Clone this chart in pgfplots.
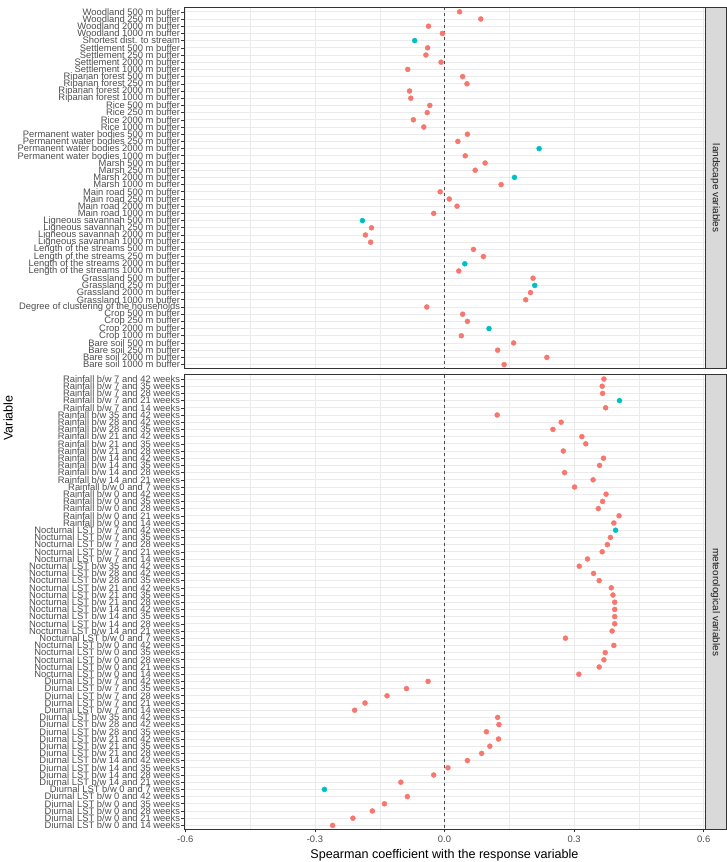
\documentclass[border=0pt]{standalone}
\usepackage{fontspec}
\setmainfont{Liberation Sans}
\usepackage{pgfplots}
\pgfplotsset{compat=1.18}

\definecolor{salmon}{HTML}{F8766D}
\definecolor{cyanpt}{HTML}{00BFC4}
\definecolor{gridgrey}{HTML}{EBEBEB}
\definecolor{g20}{HTML}{333333}
\definecolor{g30}{HTML}{4D4D4D}
\definecolor{g10}{HTML}{1A1A1A}
\definecolor{stripfill}{HTML}{D9D9D9}

\pgfplotsset{
  facet/.style={
    scale only axis, width=521pt,
    xmin=-0.603, xmax=0.603,
    y dir=reverse,
    axis line style={g20, line width=0.9pt},
    xtick={-0.6,-0.3,0,0.3,0.6},
    minor xtick={-0.45,-0.15,0.15,0.45},
    xmajorgrids, xminorgrids, ymajorgrids,
    major grid style={gridgrey, line width=0.8pt},
    minor grid style={gridgrey, line width=0.4pt},
    tick align=outside, tick pos=left,
    major tick length=2.75pt, minor tick length=0pt,
    tick style={g20, line width=0.6pt},
    yticklabel style={font=\fontsize{9.4}{9.4}\selectfont, text=g30, inner sep=1pt},
    xticklabel style={font=\fontsize{9.4}{9.4}\selectfont, text=g30},
    /pgf/number format/assume math mode=true,
    /pgf/number format/fixed, /pgf/number format/fixed zerofill,
    /pgf/number format/precision=1,
  },
  pts/.style={only marks, mark=*, mark size=2.5pt, color=#1, mark options={draw=#1, fill=#1}},
}

\begin{document}
\begin{tikzpicture}
\path[use as bounding box] (0,0) rectangle (726pt,862pt);

% landscape panel
\begin{axis}[facet, name=top, at={(184pt,854.5pt)}, anchor=north west,
  height=361.4pt, ymin=0.4, ymax=50.6,
  xticklabels={}, xtick style={draw=none},
  ytick={1,...,50},
  yticklabels={Woodland 500 m buffer, Woodland 250 m buffer, Woodland 2000 m buffer, Woodland 1000 m buffer,
    Shortest dist. to stream,
    Settlement 500 m buffer, Settlement 250 m buffer, Settlement 2000 m buffer, Settlement 1000 m buffer,
    Riparian forest 500 m buffer, Riparian forest 250 m buffer, Riparian forest 2000 m buffer, Riparian forest 1000 m buffer,
    Rice 500 m buffer, Rice 250 m buffer, Rice 2000 m buffer, Rice 1000 m buffer,
    Permanent water bodies 500 m buffer, Permanent water bodies 250 m buffer, Permanent water bodies 2000 m buffer, Permanent water bodies 1000 m buffer,
    Marsh 500 m buffer, Marsh 250 m buffer, Marsh 2000 m buffer, Marsh 1000 m buffer,
    Main road 500 m buffer, Main road 250 m buffer, Main road 2000 m buffer, Main road 1000 m buffer,
    Ligneous savannah 500 m buffer, Ligneous savannah 250 m buffer, Ligneous savannah 2000 m buffer, Ligneous savannah 1000 m buffer,
    Length of the streams 500 m buffer, Length of the streams 250 m buffer, Length of the streams 2000 m buffer, Length of the streams 1000 m buffer,
    Grassland 500 m buffer, Grassland 250 m buffer, Grassland 2000 m buffer, Grassland 1000 m buffer,
    Degree of clustering of the households,
    Crop 500 m buffer, Crop 250 m buffer, Crop 2000 m buffer, Crop 1000 m buffer,
    Bare soil 500 m buffer, Bare soil 250 m buffer, Bare soil 2000 m buffer, Bare soil 1000 m buffer},
]
\addplot[g30, line width=0.5pt, dash pattern=on 3pt off 3pt] coordinates {(0,0.4) (0,50.6)};
\addplot[pts=salmon] coordinates {
  (0.035,1) (0.084,2) (-0.037,3) (-0.005,4) (-0.039,6) (-0.043,7) (-0.008,8) (-0.085,9)
  (0.042,10) (0.052,11) (-0.081,12) (-0.078,13) (-0.034,14) (-0.040,15) (-0.072,16) (-0.048,17)
  (0.053,18) (0.031,19) (0.048,21) (0.094,22) (0.071,23) (0.131,25) (-0.010,26) (0.011,27)
  (0.029,28) (-0.025,29) (-0.169,31) (-0.183,32) (-0.171,33) (0.067,34) (0.090,35) (0.033,37)
  (0.205,38) (0.199,40) (0.188,41) (-0.041,42) (0.042,43) (0.053,44) (0.039,46) (0.160,47)
  (0.123,48) (0.237,49) (0.138,50)};
\addplot[pts=cyanpt] coordinates {
  (-0.069,5) (0.219,20) (0.162,24) (-0.190,30) (0.047,36) (0.209,39) (0.103,45)};
\end{axis}
\draw[fill=stripfill, draw=g20, line width=0.9pt] (top.north east) rectangle ([xshift=21pt]top.south east);
\node[rotate=-90, text=g10, font=\fontsize{10}{10}\selectfont] at ([xshift=10.5pt]top.east) {landscape variables};

% meteorological panel
\begin{axis}[facet, name=bot, at={(184pt,487.3pt)}, anchor=north west,
  height=455pt, ymin=0.4, ymax=63.6,
  ytick={1,...,63},
  yticklabels={Rainfall b/w 7 and 42 weeks, Rainfall b/w 7 and 35 weeks, Rainfall b/w 7 and 28 weeks, Rainfall b/w 7 and 21 weeks, Rainfall b/w 7 and 14 weeks,
    Rainfall b/w 35 and 42 weeks, Rainfall b/w 28 and 42 weeks, Rainfall b/w 28 and 35 weeks,
    Rainfall b/w 21 and 42 weeks, Rainfall b/w 21 and 35 weeks, Rainfall b/w 21 and 28 weeks,
    Rainfall b/w 14 and 42 weeks, Rainfall b/w 14 and 35 weeks, Rainfall b/w 14 and 28 weeks, Rainfall b/w 14 and 21 weeks,
    Rainfall b/w 0 and 7 weeks, Rainfall b/w 0 and 42 weeks, Rainfall b/w 0 and 35 weeks, Rainfall b/w 0 and 28 weeks, Rainfall b/w 0 and 21 weeks, Rainfall b/w 0 and 14 weeks,
    Nocturnal LST b/w 7 and 42 weeks, Nocturnal LST b/w 7 and 35 weeks, Nocturnal LST b/w 7 and 28 weeks, Nocturnal LST b/w 7 and 21 weeks, Nocturnal LST b/w 7 and 14 weeks,
    Nocturnal LST b/w 35 and 42 weeks, Nocturnal LST b/w 28 and 42 weeks, Nocturnal LST b/w 28 and 35 weeks,
    Nocturnal LST b/w 21 and 42 weeks, Nocturnal LST b/w 21 and 35 weeks, Nocturnal LST b/w 21 and 28 weeks,
    Nocturnal LST b/w 14 and 42 weeks, Nocturnal LST b/w 14 and 35 weeks, Nocturnal LST b/w 14 and 28 weeks, Nocturnal LST b/w 14 and 21 weeks,
    Nocturnal LST b/w 0 and 7 weeks, Nocturnal LST b/w 0 and 42 weeks, Nocturnal LST b/w 0 and 35 weeks, Nocturnal LST b/w 0 and 28 weeks, Nocturnal LST b/w 0 and 21 weeks, Nocturnal LST b/w 0 and 14 weeks,
    Diurnal LST b/w 7 and 42 weeks, Diurnal LST b/w 7 and 35 weeks, Diurnal LST b/w 7 and 28 weeks, Diurnal LST b/w 7 and 21 weeks, Diurnal LST b/w 7 and 14 weeks,
    Diurnal LST b/w 35 and 42 weeks, Diurnal LST b/w 28 and 42 weeks, Diurnal LST b/w 28 and 35 weeks,
    Diurnal LST b/w 21 and 42 weeks, Diurnal LST b/w 21 and 35 weeks, Diurnal LST b/w 21 and 28 weeks,
    Diurnal LST b/w 14 and 42 weeks, Diurnal LST b/w 14 and 35 weeks, Diurnal LST b/w 14 and 28 weeks, Diurnal LST b/w 14 and 21 weeks,
    Diurnal LST b/w 0 and 7 weeks, Diurnal LST b/w 0 and 42 weeks, Diurnal LST b/w 0 and 35 weeks, Diurnal LST b/w 0 and 28 weeks, Diurnal LST b/w 0 and 21 weeks, Diurnal LST b/w 0 and 14 weeks},
]
\addplot[g30, line width=0.5pt, dash pattern=on 3pt off 3pt] coordinates {(0,0.4) (0,63.6)};
\addplot[pts=salmon] coordinates {
  (0.369,1) (0.365,2) (0.366,3) (0.373,5) (0.122,6) (0.270,7) (0.251,8) (0.318,9)
  (0.327,10) (0.275,11) (0.368,12) (0.359,13) (0.278,14) (0.344,15) (0.301,16) (0.374,17)
  (0.366,18) (0.356,19) (0.404,20) (0.392,21) (0.384,23) (0.377,24) (0.365,25) (0.331,26)
  (0.312,27) (0.345,28) (0.358,29) (0.386,30) (0.390,31) (0.394,32) (0.394,33) (0.394,34)
  (0.394,35) (0.388,36) (0.280,37) (0.392,38) (0.372,39) (0.369,40) (0.358,41) (0.311,42)
  (-0.038,43) (-0.088,44) (-0.133,45) (-0.184,46) (-0.208,47) (0.123,48) (0.126,49) (0.097,50)
  (0.125,51) (0.105,52) (0.086,53) (0.053,54) (0.008,55) (-0.025,56) (-0.101,57)
  (-0.086,59) (-0.139,60) (-0.167,61) (-0.212,62) (-0.259,63)};
\addplot[pts=cyanpt] coordinates {(0.405,4) (0.396,22) (-0.278,58)};
\end{axis}
\draw[fill=stripfill, draw=g20, line width=0.9pt] (bot.north east) rectangle ([xshift=21pt]bot.south east);
\node[rotate=-90, text=g10, font=\fontsize{10}{10}\selectfont] at ([xshift=10.5pt]bot.east) {meteorological variables};

\node[font=\fontsize{12.6}{12.6}\selectfont] at (444.5pt,6.5pt) {Spearman coefficient with the response variable};
\node[rotate=90, font=\fontsize{12.6}{12.6}\selectfont] at (8pt,444pt) {Variable};
\end{tikzpicture}
\end{document}
